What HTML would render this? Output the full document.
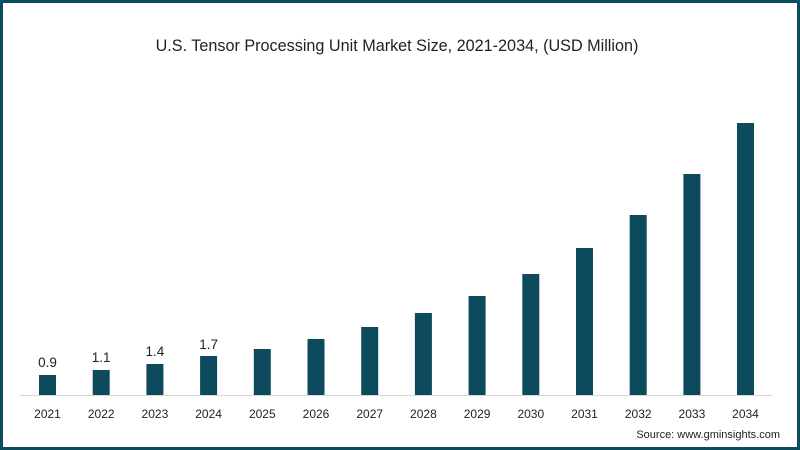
<!DOCTYPE html>
<html><head><style>
html,body{margin:0;padding:0;background:#fff}
.f{position:absolute;left:0;top:0;width:800px;height:450px;box-sizing:border-box;border:3px solid #0d4a5e;background:#fff;font-family:"Liberation Sans",sans-serif}
</style></head><body>
<div class="f">
<svg width="794" height="444" viewBox="3 3 794 444" style="position:absolute;left:0;top:0" font-family="Liberation Sans, sans-serif">
<text x="397" y="51" text-anchor="middle" font-size="16.2" fill="#222">U.S. Tensor Processing Unit Market Size, 2021-2034, (USD Million)</text>
<line x1="20" y1="395.5" x2="772" y2="395.5" stroke="#d8d8d8" stroke-width="1"/>
<g fill="#0d4a5e">
<rect x="39" y="375" width="17" height="20"/>
<rect x="92.7" y="370" width="17" height="25"/>
<rect x="146.4" y="364" width="17" height="31"/>
<rect x="200.1" y="356" width="17" height="39"/>
<rect x="253.8" y="349" width="17" height="46"/>
<rect x="307.5" y="339" width="17" height="56"/>
<rect x="361.2" y="327" width="17" height="68"/>
<rect x="414.9" y="313" width="17" height="82"/>
<rect x="468.6" y="296" width="17" height="99"/>
<rect x="522.3" y="274" width="17" height="121"/>
<rect x="576" y="248" width="17" height="147"/>
<rect x="629.7" y="215" width="17" height="180"/>
<rect x="683.4" y="174" width="17" height="221"/>
<rect x="737" y="123" width="17" height="272"/>
</g>
<g font-size="13.5" fill="#222" text-anchor="middle">
<text x="47.5" y="367">0.9</text>
<text x="101.2" y="362">1.1</text>
<text x="154.9" y="356">1.4</text>
<text x="208.6" y="349">1.7</text>
</g>
<g font-size="12" fill="#222" text-anchor="middle">
<text x="47.5" y="418">2021</text><text x="101.2" y="418">2022</text><text x="154.9" y="418">2023</text><text x="208.6" y="418">2024</text><text x="262.3" y="418">2025</text><text x="316" y="418">2026</text><text x="369.7" y="418">2027</text><text x="423.4" y="418">2028</text><text x="477.1" y="418">2029</text><text x="530.8" y="418">2030</text><text x="584.5" y="418">2031</text><text x="638.2" y="418">2032</text><text x="691.9" y="418">2033</text><text x="745.5" y="418">2034</text>
</g>
<text x="780" y="438" text-anchor="end" font-size="11" fill="#222">Source: www.gminsights.com</text>
</svg>
</div>
</body></html>
